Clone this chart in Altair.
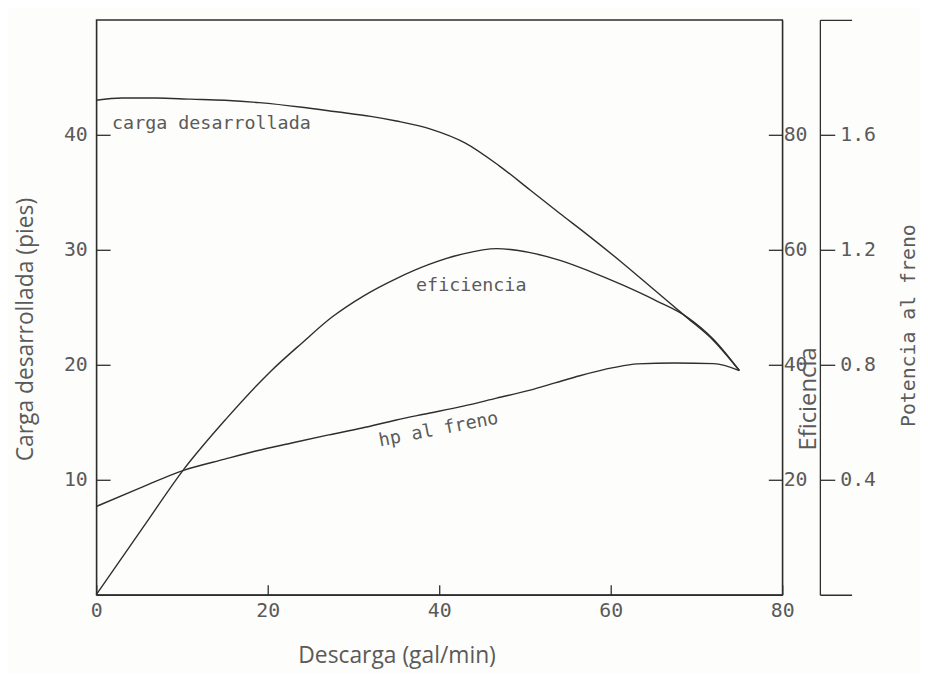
import altair as alt
import pandas as pd

# ---------------- data ----------------
# Carga desarrollada (pies) vs descarga (gal/min)
carga_x = [0, 3, 7, 11, 15, 19, 24, 28, 32, 35, 39, 43, 47, 50.6, 54, 57.3, 61.3, 65.1, 68.9, 72, 75]
carga_y = [43.0, 43.2, 43.2, 43.1, 43.0, 42.8, 42.4, 42.0, 41.6, 41.2, 40.5, 39.3, 37.3, 35.2,
           33.2, 31.3, 28.9, 26.5, 24.1, 22.1, 19.5]

# Eficiencia (%)
efic_x = [0, 5.5, 10.1, 15.1, 20.3, 24.0, 27.5, 31.2, 35, 38.9, 42.8, 46.7, 50.6, 54,
          57.5, 61.5, 65.5, 68.9, 72, 75]
efic_y = [0, 11.8, 21.6, 30.5, 38.8, 43.8, 48.3, 52.0, 55.0, 57.5, 59.3, 60.2, 59.5, 58.2,
          56.3, 53.8, 51.0, 48.3, 44.4, 39.0]

# Potencia al freno (hp)
hp_x = [0, 5, 10.1, 15, 18.6, 22.8, 27.1, 31, 35, 38.2, 42.8, 46.7, 50.6, 53.5, 56.4, 60.3,
        63.1, 67.5, 72, 75]
hp_y = [0.307, 0.37, 0.432, 0.472, 0.50, 0.528, 0.556, 0.58, 0.608, 0.628, 0.656, 0.684, 0.712,
        0.737, 0.762, 0.79, 0.803, 0.806, 0.804, 0.78]

# curve labels (positioned on the carga scale)
ann_text = ["carga desarrollada", "eficiencia", "hp al freno"]
ann_x = [1.85, 37.3, 33.1]
ann_y = [40.5, 26.4, 12.9]
ann_angle = [0, 0, 349]

x_ticks = [0, 20, 40, 60, 80]
carga_ticks = [10, 20, 30, 40]
efic_ticks = [20, 40, 60, 80]
hp_ticks = [0, 0.4, 0.8, 1.2, 1.6, 2.0]

# ---------------- styling ----------------
INK = "#2e2e2e"
TXT = "#5a5a5a"
MONO = "DejaVu Sans Mono"
SANS = "Open Sans"
W, H = 692, 580

carga_df = pd.DataFrame({"descarga": carga_x, "valor": carga_y})
efic_df = pd.DataFrame({"descarga": efic_x, "valor": efic_y})
hp_df = pd.DataFrame({"descarga": hp_x, "valor": hp_y})
ann_df = pd.DataFrame({"descarga": ann_x, "valor": ann_y, "label": ann_text, "angle": ann_angle})

common_axis = dict(domainColor=INK, domainWidth=1.3, tickColor=INK, tickWidth=1.3,
                   labelFont=MONO, labelFontSize=20, labelColor=TXT, grid=False,
                   titleFontWeight="normal", titleColor=TXT)

x_axis = alt.Axis(orient="top", offset=-H, values=x_ticks, tickSize=10, labelPadding=-26,
                  labelBaseline="middle", labelAlign="center", format="d",
                  title="Descarga (gal/min)", titleX=303, titleY=68, titleAngle=0,
                  titleAlign="center", titleBaseline="alphabetic",
                  titleFont=SANS, titleFontSize=23, **common_axis)
x_enc = alt.X("descarga:Q", scale=alt.Scale(domain=[0, 80], nice=False, zero=False), axis=x_axis)

carga_axis = alt.Axis(orient="right", offset=-W, values=carga_ticks, tickSize=14, labelPadding=-23,
                      labelAlign="right", labelBaseline="middle", format="d",
                      title="Carga desarrollada (pies)", titleX=-71, titleY=312, titleAngle=270,
                      titleAlign="center", titleBaseline="middle",
                      titleFont=SANS, titleFontSize=23, **common_axis)
carga_y_enc = alt.Y("valor:Q", scale=alt.Scale(domain=[0, 50], nice=False), axis=carga_axis)

efic_axis = alt.Axis(orient="left", offset=-W, values=efic_ticks, tickSize=14, labelPadding=-15,
                     labelAlign="left", labelBaseline="middle", format="d",
                     title="Eficiencia", titleX=27, titleY=382, titleAngle=270,
                     titleAlign="center", titleBaseline="middle",
                     titleFont=SANS, titleFontSize=24, **common_axis)

hp_axis = alt.Axis(orient="right", offset=38, values=hp_ticks,
                   tickSize={"condition": {"test": "datum.value == 0 || datum.value == 2", "value": 32},
                             "value": 15},
                   labelPadding=5, labelAlign="left", labelBaseline="middle",
                   labelExpr="datum.value == 0 || datum.value == 2 ? '' : format(datum.value, '.1f')",
                   title="Potencia al freno", titleX=89, titleY=308, titleAngle=270,
                   titleAlign="center", titleBaseline="middle",
                   titleFont=MONO, titleFontSize=20, **common_axis)

line_kw = dict(color=INK, strokeWidth=1.4, interpolate="monotone")

carga_line = alt.Chart(carga_df).mark_line(**line_kw).encode(x=x_enc, y=carga_y_enc)
labels = alt.Chart(ann_df).mark_text(font=MONO, fontSize=18.5, color=TXT, align="left",
                                     baseline="alphabetic").encode(
    x=x_enc, y=carga_y_enc, text="label:N", angle=alt.Angle("angle:Q", scale=None))
carga_layer = alt.layer(carga_line, labels)

efic_line = alt.Chart(efic_df).mark_line(**line_kw).encode(
    x=x_enc, y=alt.Y("valor:Q", scale=alt.Scale(domain=[0, 100], nice=False), axis=efic_axis))

hp_line = alt.Chart(hp_df).mark_line(**line_kw).encode(
    x=x_enc, y=alt.Y("valor:Q", scale=alt.Scale(domain=[0, 2.0], nice=False), axis=hp_axis))

chart = alt.layer(carga_layer, efic_line, hp_line).resolve_scale(y="independent").properties(
    width=W, height=H,
    autosize=alt.AutoSizeParams(type="none"),
    padding={"left": 89, "top": 9, "right": 139, "bottom": 76},
    background="#fdfdfb",
).configure_view(stroke=INK, strokeWidth=1.3)

chart.save("out.html", embed_options={"renderer": "svg", "actions": False})
